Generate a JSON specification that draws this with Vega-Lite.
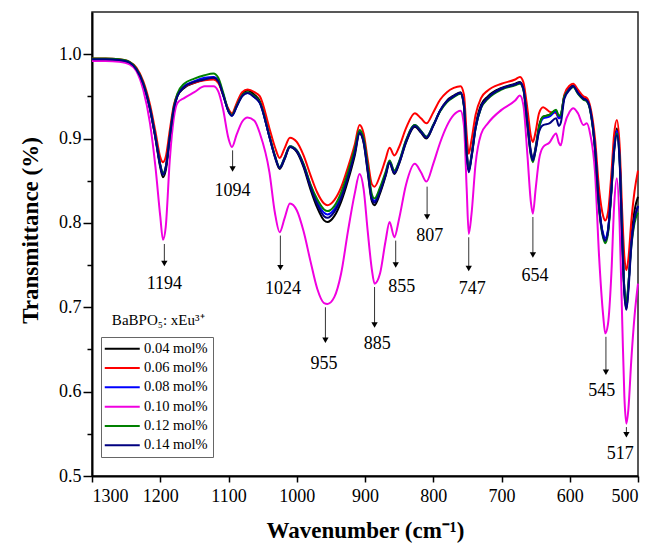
{
  "$schema": "https://vega.github.io/schema/vega-lite/v6.json",
  "width": 546,
  "height": 464,
  "autosize": {"type": "none"},
  "padding": {"left": 92, "top": 12, "right": 15, "bottom": 75},
  "background": "white",
  "config": {
    "view": {"stroke": "#222222", "strokeWidth": 1.5},
    "font": "Liberation Serif",
    "axis": {
      "grid": false,
      "domainColor": "black",
      "domainWidth": 2,
      "tickColor": "black",
      "tickWidth": 1.5,
      "labelFont": "Liberation Serif",
      "labelFontSize": 18,
      "labelColor": "black",
      "titleFont": "Liberation Serif",
      "titleFontSize": 23,
      "titleFontWeight": "bold",
      "titleColor": "black"
    }
  },
  "datasets": {
    "spectra": [
      {"x":1300,"s1":0.994,"s2":0.995,"s3":0.994,"s4":0.992,"s5":0.995,"s6":0.994},
      {"x":1280,"s1":0.994,"s2":0.995,"s3":0.994,"s4":0.992,"s5":0.995,"s6":0.994},
      {"x":1260,"s1":0.993,"s2":0.994,"s3":0.993,"s4":0.991,"s5":0.994,"s6":0.993},
      {"x":1245,"s1":0.990,"s2":0.991,"s3":0.990,"s4":0.988,"s5":0.991,"s6":0.990},
      {"x":1235,"s1":0.982,"s2":0.984,"s3":0.982,"s4":0.980,"s5":0.983,"s6":0.982},
      {"x":1225,"s1":0.965,"s2":0.968,"s3":0.965,"s4":0.958,"s5":0.966,"s6":0.965},
      {"x":1215,"s1":0.935,"s2":0.940,"s3":0.936,"s4":0.918,"s5":0.936,"s6":0.935},
      {"x":1207,"s1":0.900,"s2":0.908,"s3":0.902,"s4":0.866,"s5":0.902,"s6":0.901},
      {"x":1200,"s1":0.866,"s2":0.878,"s3":0.869,"s4":0.808,"s5":0.869,"s6":0.868},
      {"x":1196,"s1":0.854,"s2":0.872,"s3":0.858,"s4":0.780,"s5":0.859,"s6":0.857},
      {"x":1192,"s1":0.862,"s2":0.878,"s3":0.866,"s4":0.795,"s5":0.866,"s6":0.865},
      {"x":1186,"s1":0.900,"s2":0.910,"s3":0.902,"s4":0.875,"s5":0.903,"s6":0.902},
      {"x":1180,"s1":0.935,"s2":0.940,"s3":0.936,"s4":0.925,"s5":0.938,"s6":0.936},
      {"x":1175,"s1":0.950,"s2":0.952,"s3":0.951,"s4":0.942,"s5":0.953,"s6":0.950},
      {"x":1165,"s1":0.960,"s2":0.961,"s3":0.962,"s4":0.948,"s5":0.965,"s6":0.961},
      {"x":1150,"s1":0.966,"s2":0.966,"s3":0.968,"s4":0.955,"s5":0.971,"s6":0.967},
      {"x":1135,"s1":0.970,"s2":0.969,"s3":0.972,"s4":0.962,"s5":0.975,"s6":0.970},
      {"x":1122,"s1":0.972,"s2":0.970,"s3":0.973,"s4":0.962,"s5":0.977,"s6":0.972},
      {"x":1115,"s1":0.968,"s2":0.966,"s3":0.969,"s4":0.956,"s5":0.972,"s6":0.968},
      {"x":1108,"s1":0.952,"s2":0.952,"s3":0.953,"s4":0.935,"s5":0.955,"s6":0.952},
      {"x":1100,"s1":0.933,"s2":0.935,"s3":0.932,"s4":0.900,"s5":0.933,"s6":0.932},
      {"x":1095,"s1":0.928,"s2":0.930,"s3":0.927,"s4":0.890,"s5":0.928,"s6":0.927},
      {"x":1088,"s1":0.940,"s2":0.942,"s3":0.938,"s4":0.905,"s5":0.939,"s6":0.938},
      {"x":1080,"s1":0.953,"s2":0.955,"s3":0.951,"s4":0.920,"s5":0.951,"s6":0.950},
      {"x":1072,"s1":0.957,"s2":0.958,"s3":0.954,"s4":0.925,"s5":0.955,"s6":0.954},
      {"x":1062,"s1":0.952,"s2":0.955,"s3":0.949,"s4":0.921,"s5":0.950,"s6":0.949},
      {"x":1054,"s1":0.944,"s2":0.950,"s3":0.942,"s4":0.906,"s5":0.943,"s6":0.942},
      {"x":1040,"s1":0.902,"s2":0.912,"s3":0.902,"s4":0.860,"s5":0.903,"s6":0.902},
      {"x":1032,"s1":0.878,"s2":0.890,"s3":0.879,"s4":0.812,"s5":0.880,"s6":0.879},
      {"x":1025,"s1":0.864,"s2":0.877,"s3":0.866,"s4":0.789,"s5":0.866,"s6":0.865},
      {"x":1018,"s1":0.875,"s2":0.888,"s3":0.877,"s4":0.805,"s5":0.877,"s6":0.876},
      {"x":1010,"s1":0.890,"s2":0.901,"s3":0.891,"s4":0.823,"s5":0.891,"s6":0.890},
      {"x":1000,"s1":0.884,"s2":0.896,"s3":0.886,"s4":0.815,"s5":0.886,"s6":0.885},
      {"x":990,"s1":0.866,"s2":0.880,"s3":0.869,"s4":0.790,"s5":0.870,"s6":0.868},
      {"x":980,"s1":0.840,"s2":0.857,"s3":0.845,"s4":0.755,"s5":0.846,"s6":0.843},
      {"x":970,"s1":0.818,"s2":0.836,"s3":0.825,"s4":0.722,"s5":0.828,"s6":0.822},
      {"x":960,"s1":0.803,"s2":0.823,"s3":0.812,"s4":0.705,"s5":0.816,"s6":0.808},
      {"x":955,"s1":0.801,"s2":0.821,"s3":0.810,"s4":0.704,"s5":0.814,"s6":0.806},
      {"x":945,"s1":0.808,"s2":0.827,"s3":0.816,"s4":0.712,"s5":0.820,"s6":0.813},
      {"x":935,"s1":0.825,"s2":0.842,"s3":0.832,"s4":0.740,"s5":0.836,"s6":0.829},
      {"x":925,"s1":0.850,"s2":0.866,"s3":0.856,"s4":0.790,"s5":0.860,"s6":0.854},
      {"x":915,"s1":0.880,"s2":0.893,"s3":0.885,"s4":0.835,"s5":0.888,"s6":0.883},
      {"x":908,"s1":0.906,"s2":0.916,"s3":0.908,"s4":0.858,"s5":0.910,"s6":0.907},
      {"x":902,"s1":0.895,"s2":0.906,"s3":0.898,"s4":0.840,"s5":0.900,"s6":0.896},
      {"x":896,"s1":0.860,"s2":0.875,"s3":0.865,"s4":0.790,"s5":0.868,"s6":0.862},
      {"x":890,"s1":0.826,"s2":0.846,"s3":0.831,"s4":0.745,"s5":0.834,"s6":0.828},
      {"x":886,"s1":0.821,"s2":0.843,"s3":0.826,"s4":0.728,"s5":0.829,"s6":0.824},
      {"x":878,"s1":0.835,"s2":0.856,"s3":0.840,"s4":0.740,"s5":0.842,"s6":0.837},
      {"x":870,"s1":0.855,"s2":0.875,"s3":0.858,"s4":0.778,"s5":0.860,"s6":0.856},
      {"x":864,"s1":0.871,"s2":0.889,"s3":0.873,"s4":0.801,"s5":0.874,"s6":0.872},
      {"x":857,"s1":0.858,"s2":0.880,"s3":0.861,"s4":0.783,"s5":0.862,"s6":0.859},
      {"x":850,"s1":0.870,"s2":0.890,"s3":0.872,"s4":0.805,"s5":0.873,"s6":0.871},
      {"x":840,"s1":0.895,"s2":0.912,"s3":0.897,"s4":0.845,"s5":0.898,"s6":0.896},
      {"x":827,"s1":0.914,"s2":0.930,"s3":0.916,"s4":0.870,"s5":0.916,"s6":0.915},
      {"x":818,"s1":0.907,"s2":0.924,"s3":0.909,"s4":0.860,"s5":0.909,"s6":0.908},
      {"x":810,"s1":0.900,"s2":0.918,"s3":0.902,"s4":0.849,"s5":0.902,"s6":0.901},
      {"x":800,"s1":0.915,"s2":0.931,"s3":0.916,"s4":0.870,"s5":0.916,"s6":0.915},
      {"x":790,"s1":0.933,"s2":0.946,"s3":0.933,"s4":0.895,"s5":0.932,"s6":0.933},
      {"x":780,"s1":0.945,"s2":0.955,"s3":0.944,"s4":0.915,"s5":0.943,"s6":0.944},
      {"x":770,"s1":0.951,"s2":0.960,"s3":0.950,"s4":0.928,"s5":0.949,"s6":0.950},
      {"x":760,"s1":0.955,"s2":0.962,"s3":0.954,"s4":0.933,"s5":0.953,"s6":0.954},
      {"x":755,"s1":0.940,"s2":0.952,"s3":0.940,"s4":0.915,"s5":0.938,"s6":0.938},
      {"x":751,"s1":0.885,"s2":0.905,"s3":0.884,"s4":0.840,"s5":0.883,"s6":0.880},
      {"x":748,"s1":0.863,"s2":0.882,"s3":0.862,"s4":0.787,"s5":0.862,"s6":0.860},
      {"x":744,"s1":0.880,"s2":0.898,"s3":0.879,"s4":0.810,"s5":0.878,"s6":0.877},
      {"x":738,"s1":0.915,"s2":0.928,"s3":0.913,"s4":0.870,"s5":0.912,"s6":0.912},
      {"x":730,"s1":0.940,"s2":0.948,"s3":0.937,"s4":0.905,"s5":0.936,"s6":0.937},
      {"x":720,"s1":0.950,"s2":0.957,"s3":0.948,"s4":0.918,"s5":0.947,"s6":0.948},
      {"x":700,"s1":0.960,"s2":0.965,"s3":0.959,"s4":0.934,"s5":0.958,"s6":0.959},
      {"x":680,"s1":0.965,"s2":0.970,"s3":0.964,"s4":0.945,"s5":0.963,"s6":0.964},
      {"x":673,"s1":0.967,"s2":0.973,"s3":0.966,"s4":0.951,"s5":0.965,"s6":0.966},
      {"x":668,"s1":0.960,"s2":0.967,"s3":0.959,"s4":0.940,"s5":0.958,"s6":0.959},
      {"x":662,"s1":0.920,"s2":0.935,"s3":0.918,"s4":0.880,"s5":0.915,"s6":0.917},
      {"x":657,"s1":0.885,"s2":0.903,"s3":0.883,"s4":0.825,"s5":0.880,"s6":0.882},
      {"x":654,"s1":0.876,"s2":0.896,"s3":0.875,"s4":0.811,"s5":0.872,"s6":0.874},
      {"x":650,"s1":0.890,"s2":0.908,"s3":0.888,"s4":0.840,"s5":0.887,"s6":0.886},
      {"x":645,"s1":0.915,"s2":0.930,"s3":0.912,"s4":0.875,"s5":0.913,"s6":0.908},
      {"x":639,"s1":0.926,"s2":0.937,"s3":0.924,"s4":0.890,"s5":0.926,"s6":0.916},
      {"x":630,"s1":0.928,"s2":0.932,"s3":0.926,"s4":0.895,"s5":0.928,"s6":0.918},
      {"x":620,"s1":0.933,"s2":0.930,"s3":0.932,"s4":0.906,"s5":0.934,"s6":0.924},
      {"x":616,"s1":0.925,"s2":0.924,"s3":0.924,"s4":0.895,"s5":0.927,"s6":0.915},
      {"x":613,"s1":0.928,"s2":0.926,"s3":0.927,"s4":0.892,"s5":0.929,"s6":0.919},
      {"x":608,"s1":0.950,"s2":0.952,"s3":0.949,"s4":0.915,"s5":0.950,"s6":0.947},
      {"x":600,"s1":0.960,"s2":0.963,"s3":0.959,"s4":0.932,"s5":0.958,"s6":0.958},
      {"x":595,"s1":0.963,"s2":0.965,"s3":0.962,"s4":0.936,"s5":0.961,"s6":0.962},
      {"x":588,"s1":0.955,"s2":0.958,"s3":0.954,"s4":0.930,"s5":0.953,"s6":0.954},
      {"x":580,"s1":0.948,"s2":0.950,"s3":0.947,"s4":0.916,"s5":0.946,"s6":0.947},
      {"x":575,"s1":0.946,"s2":0.948,"s3":0.945,"s4":0.918,"s5":0.944,"s6":0.945},
      {"x":570,"s1":0.935,"s2":0.938,"s3":0.934,"s4":0.905,"s5":0.933,"s6":0.934},
      {"x":563,"s1":0.890,"s2":0.900,"s3":0.889,"s4":0.860,"s5":0.887,"s6":0.889},
      {"x":557,"s1":0.820,"s2":0.840,"s3":0.820,"s4":0.760,"s5":0.816,"s6":0.819},
      {"x":551,"s1":0.785,"s2":0.808,"s3":0.787,"s4":0.690,"s5":0.782,"s6":0.784},
      {"x":548,"s1":0.779,"s2":0.803,"s3":0.782,"s4":0.669,"s5":0.776,"s6":0.779},
      {"x":544,"s1":0.790,"s2":0.812,"s3":0.792,"s4":0.680,"s5":0.787,"s6":0.790},
      {"x":539,"s1":0.840,"s2":0.858,"s3":0.840,"s4":0.740,"s5":0.836,"s6":0.838},
      {"x":535,"s1":0.890,"s2":0.905,"s3":0.888,"s4":0.820,"s5":0.885,"s6":0.885},
      {"x":531,"s1":0.912,"s2":0.922,"s3":0.909,"s4":0.853,"s5":0.906,"s6":0.904},
      {"x":527,"s1":0.880,"s2":0.893,"s3":0.878,"s4":0.800,"s5":0.876,"s6":0.874},
      {"x":523,"s1":0.780,"s2":0.810,"s3":0.782,"s4":0.680,"s5":0.780,"s6":0.776},
      {"x":520,"s1":0.720,"s2":0.760,"s3":0.722,"s4":0.595,"s5":0.722,"s6":0.716},
      {"x":517,"s1":0.698,"s2":0.744,"s3":0.703,"s4":0.562,"s5":0.706,"s6":0.697},
      {"x":514,"s1":0.725,"s2":0.758,"s3":0.727,"s4":0.580,"s5":0.728,"s6":0.720},
      {"x":510,"s1":0.780,"s2":0.800,"s3":0.775,"s4":0.635,"s5":0.770,"s6":0.770},
      {"x":505,"s1":0.815,"s2":0.838,"s3":0.805,"s4":0.690,"s5":0.800,"s6":0.805},
      {"x":500,"s1":0.831,"s2":0.862,"s3":0.820,"s4":0.728,"s5":0.812,"s6":0.820}
    ],
    "peaks": [
      {"p":"1194","wn":1194,"y1":0.775,"y2":0.752,"lx":1194,"ly":0.728},
      {"p":"1094","wn":1094,"y1":0.886,"y2":0.864,"lx":1094,"ly":0.838},
      {"p":"1024","wn":1024,"y1":0.785,"y2":0.747,"lx":1020,"ly":0.722},
      {"p":"955","wn":958,"y1":0.700,"y2":0.661,"lx":960,"ly":0.633},
      {"p":"885","wn":886,"y1":0.724,"y2":0.679,"lx":882,"ly":0.657},
      {"p":"855","wn":855,"y1":0.779,"y2":0.750,"lx":846,"ly":0.724},
      {"p":"807","wn":809,"y1":0.843,"y2":0.807,"lx":805,"ly":0.784},
      {"p":"747","wn":748,"y1":0.783,"y2":0.746,"lx":743,"ly":0.722},
      {"p":"654","wn":654,"y1":0.807,"y2":0.762,"lx":651,"ly":0.737},
      {"p":"545","wn":547,"y1":0.665,"y2":0.623,"lx":553,"ly":0.601},
      {"p":"517","wn":517,"y1":0.558,"y2":0.549,"lx":526,"ly":0.526}
    ],
    "legendTitle": [
      {"t":"BaBPO₅: xEu³⁺","wn":1203,"v":0.685}
    ]
  },
  "layer": [
    {
      "data": {"name": "spectra"},
      "transform": [{"fold": ["s1","s2","s3","s4","s5","s6"], "as": ["series","T"]}],
      "mark": {"type": "line", "strokeWidth": 2, "interpolate": "monotone"},
      "encoding": {
        "x": {
          "field": "x", "type": "quantitative",
          "scale": {"domain": [500, 1300], "reverse": true, "nice": false, "zero": false},
          "axis": {
            "values": [1300,1200,1100,1000,900,800,700,600,500],
            "format": "d",
            "tickSize": 6,
            "labelPadding": 5,
            "title": "Wavenumber (cm⁻¹)",
            "titlePadding": 14
          }
        },
        "y": {
          "field": "T", "type": "quantitative",
          "scale": {"domain": [0.5, 1.05], "nice": false, "zero": false},
          "axis": {
            "values": [0.5,0.55,0.6,0.65,0.7,0.75,0.8,0.85,0.9,0.95,1.0],
            "labelExpr": "round(datum.value*100) % 10 == 0 ? format(datum.value, '.1f') : ''",
            "tickSize": {"condition": {"test": "round(datum.value*100) % 10 != 0", "value": 5}, "value": 9},
            "labelPadding": 2,
            "title": "Transmittance (%)",
            "titlePadding": 16,
            "titleY": 218
          }
        },
        "color": {
          "field": "series", "type": "nominal",
          "scale": {
            "domain": ["s1","s2","s3","s4","s5","s6"],
            "range": ["#000000","#ff0000","#0000ff","#f000e0","#008000","#000080"]
          },
          "legend": {
            "orient": "none",
            "legendX": 9,
            "legendY": 325,
            "title": null,
            "labelExpr": "datum.label == 's1' ? '0.04 mol%' : datum.label == 's2' ? '0.06 mol%' : datum.label == 's3' ? '0.08 mol%' : datum.label == 's4' ? '0.10 mol%' : datum.label == 's5' ? '0.12 mol%' : '0.14 mol%'",
            "symbolType": "M-1.6,0H5.4",
            "symbolSize": 100,
            "symbolStrokeWidth": 2,
            "symbolFillColor": "transparent",
            "labelFont": "Liberation Serif",
            "labelFontSize": 14.5,
            "labelColor": "black",
            "labelOffset": 24,
            "strokeColor": "#666666",
            "fillColor": "white",
            "padding": 4.5,
            "rowPadding": 4.3
          }
        }
      }
    },
    {
      "data": {"name": "peaks"},
      "mark": {"type": "rule", "color": "#333333", "strokeWidth": 1},
      "encoding": {
        "x": {"field": "wn", "type": "quantitative"},
        "y": {"field": "y1", "type": "quantitative"},
        "y2": {"field": "y2"}
      }
    },
    {
      "data": {"name": "peaks"},
      "mark": {"type": "point", "shape": "triangle-down", "filled": true, "color": "black", "opacity": 1, "size": 40},
      "encoding": {
        "x": {"field": "wn", "type": "quantitative"},
        "y": {"field": "y2", "type": "quantitative"}
      }
    },
    {
      "data": {"name": "peaks"},
      "mark": {"type": "text", "font": "Liberation Serif", "fontSize": 18, "color": "black", "baseline": "middle", "align": "center"},
      "encoding": {
        "x": {"field": "lx", "type": "quantitative"},
        "y": {"field": "ly", "type": "quantitative"},
        "text": {"field": "p"}
      }
    },
    {
      "data": {"name": "legendTitle"},
      "mark": {"type": "text", "font": "Liberation Serif", "fontSize": 15, "color": "black", "baseline": "middle", "align": "center"},
      "encoding": {
        "x": {"field": "wn", "type": "quantitative"},
        "y": {"field": "v", "type": "quantitative"},
        "text": {"field": "t"}
      }
    }
  ]
}
